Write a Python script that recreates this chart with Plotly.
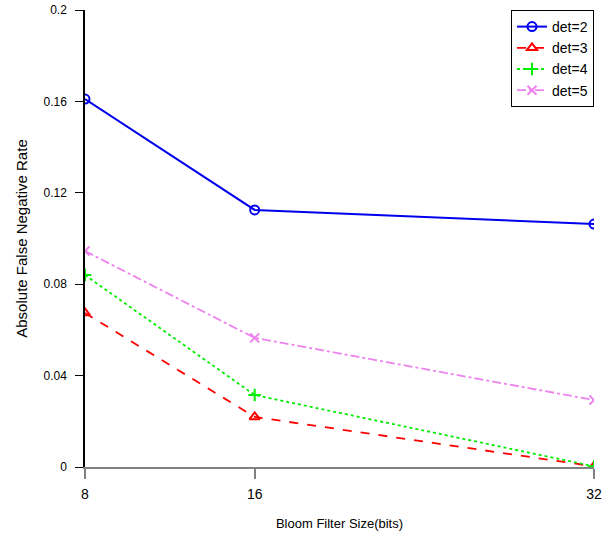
import plotly.graph_objects as go

sizes = [8, 16, 32]
det2 = [0.161, 0.1125, 0.1063]
det3 = [0.0674, 0.0219, 0.0003]
det4 = [0.084, 0.0315, 0.0003]
det5 = [0.0945, 0.0565, 0.0293]
series_names = ["det=2", "det=3", "det=4", "det=5"]
y_ticks = [0, 0.04, 0.08, 0.12, 0.16, 0.2]
y_labels = ["0", "0.04", "0.08", "0.12", "0.16", "0.2"]

styles = [
    dict(color="#0000ee", dash="solid", symbol="circle-open", width=2),
    dict(color="#ff0000", dash="dash", symbol="triangle-up-open", width=1.8),
    dict(color="#00ee00", dash="dot", symbol="cross-thin-open", width=1.8),
    dict(color="#ee82ee", dash="dashdot", symbol="x-thin-open", width=1.8),
]

fig = go.Figure()
for name, vals, st in zip(series_names, [det2, det3, det4, det5], styles):
    fig.add_trace(go.Scatter(
        x=sizes, y=vals, name=name, mode="lines+markers",
        line=dict(color=st["color"], dash=st["dash"], width=st["width"]),
        marker=dict(symbol=st["symbol"], size=9, color=st["color"],
                    line=dict(color=st["color"], width=2)),
    ))

fig.update_layout(
    width=610, height=540,
    margin=dict(l=85, r=16, t=10, b=73, autoexpand=False),
    plot_bgcolor="white", paper_bgcolor="white",
    font=dict(family="Liberation Sans, Arial, sans-serif", size=12, color="black"),
    showlegend=True,
    legend=dict(x=1, y=1, xanchor="right", yanchor="top",
                bordercolor="black", borderwidth=1, bgcolor="white",
                font=dict(size=14), tracegroupgap=0, itemwidth=30),
    xaxis=dict(range=[8, 32], tickvals=sizes, ticktext=[str(s) for s in sizes],
               automargin=False,
               showgrid=False, zeroline=False, showline=True, linecolor="gray",
               linewidth=2, ticks="outside", ticklen=10, tickcolor="gray",
               tickwidth=2, tickfont=dict(size=14), ticklabelstandoff=3,
               title=dict(text="Bloom Filter Size(bits)", font=dict(size=13), standoff=18)),
    yaxis=dict(range=[0, 0.2], tickvals=y_ticks, ticktext=y_labels,
               automargin=False,
               showgrid=False, zeroline=False, showline=True, linecolor="black",
               linewidth=1.5, ticks="outside", ticklen=8, tickcolor="black",
               tickfont=dict(size=12), ticklabelstandoff=6,
               title=dict(text="Absolute False Negative Rate", font=dict(size=15), standoff=12)),
)

fig.write_html("out.html")
